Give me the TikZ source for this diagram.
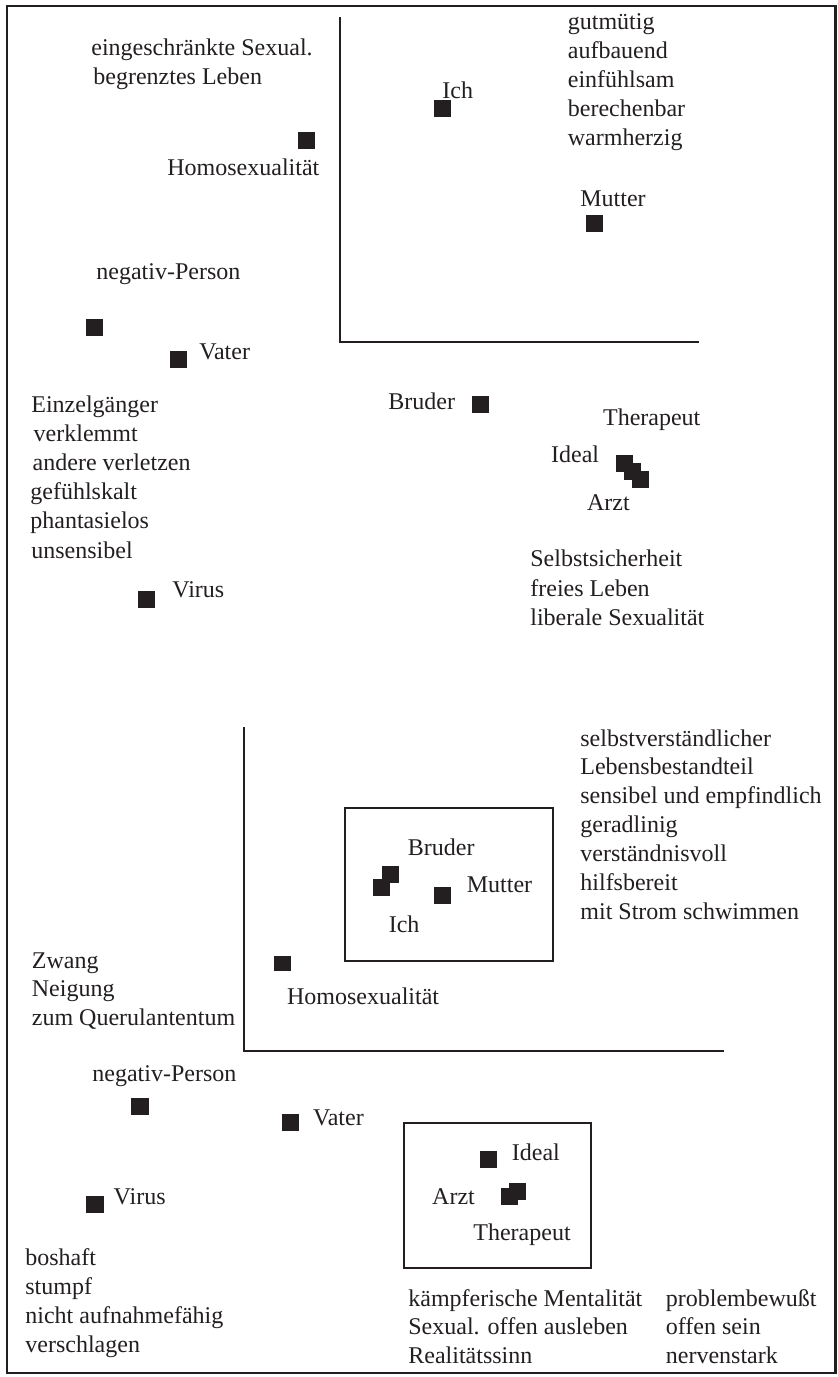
\documentclass[tikz,border=0pt]{standalone}
\usepackage{fontspec}
\setmainfont{Liberation Serif}
\definecolor{ink}{HTML}{231F20}
\begin{document}
\begin{tikzpicture}[x=0.5pt,y=-0.5pt,
  lbl/.style={anchor=base west, inner sep=0pt, font=\fontsize{12}{14.5}\selectfont, text=ink},
  dot/.style={rectangle, fill=ink, inner sep=0pt, minimum width=8.5pt, minimum height=8.5pt},
  axis/.style={line width=1pt, draw=ink},
  panel/.style={line width=1pt, draw=ink},
  outer/.style={line width=1.25pt, draw=ink}]
\useasboundingbox (0,0) rectangle (838,1377);

% outer frame
\draw[outer] (7,6) rectangle (835.5,1373);

% ---------------- upper plot ----------------
\coordinate (a1top) at (340,17);
\coordinate (a1org) at (340,342);
\coordinate (a1end) at (699,342);
\draw[axis] (a1top) -- (a1org) -- (a1end);

\node[lbl] (t-eing) at (91,55) {eingeschränkte Sexual.};
\node[lbl] (t-begr) at (93,84) {begrenztes Leben};

\node[dot] (p-homo1) at (306.5,140.5) {};
\node[lbl] (t-homo1) at (167,175) {Homosexualität};

\node[lbl] (t-neg1) at (96,279) {negativ-Person};
\node[dot] (p-neg1) at (94.5,327.5) {};
\node[dot] (p-vat1) at (178.5,359.5) {};
\node[lbl] (t-vat1) at (199,359) {Vater};

\foreach \x/\t [count=\i from 0] in {31/Einzelgänger,33.3/verklemmt,32.3/andere verletzen,30/gefühlskalt,30/phantasielos,31/unsensibel}
  \node[lbl] (l1-\i) at (\x,{412+29.2*\i}) {\t};

\node[dot] (p-vir1) at (146.5,599.5) {};
\node[lbl] (t-vir1) at (172,597) {Virus};

\node[dot] (p-ich1) at (442.5,108.5) {};
\node[lbl] (t-ich1) at (442,98) {Ich};

\foreach \t [count=\i from 0] in {gutmütig,aufbauend,einfühlsam,berechenbar,warmherzig}
  \node[lbl] (r1-\i) at (567.5,{29+29.1*\i}) {\t};

\node[lbl] (t-mut1) at (580,206.7) {Mutter};
\node[dot] (p-mut1) at (594.5,223.5) {};

\node[lbl] (t-bru1) at (388,409) {Bruder};
\node[dot] (p-bru1) at (480.5,404.5) {};

\node[lbl] (t-the1) at (602.7,425.7) {Therapeut};
\node[lbl] (t-ide1) at (550.7,462.3) {Ideal};
\node[dot] (p-ide1) at (624.5,463.5) {};
\node[dot] (p-the1) at (632.5,471.5) {};
\node[dot] (p-arz1) at (640.5,479.5) {};
\node[lbl] (t-arz1) at (586.7,510.7) {Arzt};

\foreach \t [count=\i from 0] in {Selbstsicherheit,freies Leben,liberale Sexualität}
  \node[lbl] (s1-\i) at (530,{566.7+29.4*\i}) {\t};

% ---------------- lower plot ----------------
\coordinate (a2top) at (244,727);
\coordinate (a2org) at (244,1051);
\coordinate (a2end) at (724,1051);
\draw[axis] (a2top) -- (a2org) -- (a2end);

\draw[panel] (345.3,808.3) rectangle (553.2,960.7);
\node[lbl] (t-bru2) at (407.5,855.7) {Bruder};
\node[dot] (p-bru2) at (390,874.5) {};
\node[dot] (p-ich2) at (381.5,887.5) {};
\node[dot] (p-mut2) at (442.5,895.5) {};
\node[lbl] (t-mut2) at (466.5,892.7) {Mutter};
\node[lbl] (t-ich2) at (388.4,932.3) {Ich};

\foreach \t [count=\i from 0] in {selbstverständlicher,Lebensbestandteil,sensibel und empfindlich,geradlinig,verständnisvoll,hilfsbereit,mit Strom schwimmen}
  \node[lbl] (r2-\i) at (580,{746+28.9*\i}) {\t};

\node[dot, minimum height=7.5pt] (p-homo2) at (282.5,963.7) {};
\node[lbl] (t-homo2) at (286.7,1004) {Homosexualität};

\foreach \t [count=\i from 0] in {Zwang,Neigung,zum Querulantentum}
  \node[lbl] (z2-\i) at (31.5,{968.3+28.5*\i}) {\t};

\node[lbl] (t-neg2) at (92,1081.7) {negativ-Person};
\node[dot, minimum width=9pt] (p-neg2) at (139.5,1106.5) {};
\node[dot] (p-vat2) at (290,1122.5) {};
\node[lbl] (t-vat2) at (312.7,1125) {Vater};
\node[dot, minimum width=9pt] (p-vir2) at (95,1204.5) {};
\node[lbl] (t-vir2) at (113.3,1204) {Virus};

\draw[panel] (403.5,1122.7) rectangle (591,1268.3);
\node[dot] (p-ide2) at (488.5,1159.5) {};
\node[lbl] (t-ide2) at (511.5,1160) {Ideal};
\node[dot] (p-the2) at (517,1191.5) {};
\node[dot] (p-arz2) at (509,1196.5) {};
\node[lbl] (t-arz2) at (431.8,1204) {Arzt};
\node[lbl] (t-the2) at (473,1240.7) {Therapeut};

\foreach \t [count=\i from 0] in {boshaft,stumpf,nicht aufnahmefähig,verschlagen}
  \node[lbl] (l2-\i) at (25,{1265.7+29*\i}) {\t};

\foreach \t [count=\i from 0] in {kämpferische Mentalität,Sexual. offen ausleben,Realitätssinn}
  \node[lbl] (m2-\i) at (408,{1306+28.7*\i}) {\t};

\foreach \t [count=\i from 0] in {problembewußt,offen sein,nervenstark}
  \node[lbl] (n2-\i) at (665.5,{1306+28.7*\i}) {\t};
\end{tikzpicture}
\end{document}
